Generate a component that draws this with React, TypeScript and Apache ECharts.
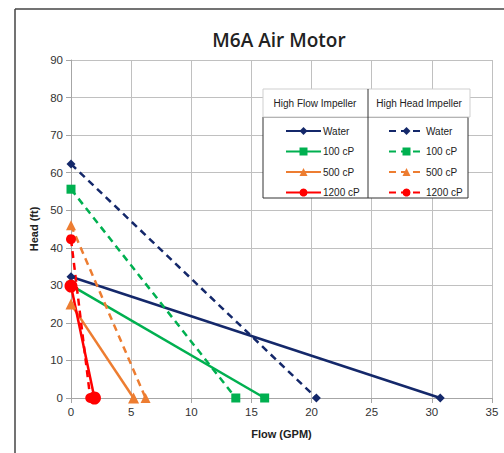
import React, { useEffect, useRef } from "react";
import * as echarts from "echarts";

const fluids = ["Water", "100 cP", "500 cP", "1200 cP"];
const colors = ["#14286a", "#00b050", "#ed7d31", "#ff0000"];
const symbols = ["diamond", "rect", "triangle", "circle"];
const hfSizes = [9, 9, 11, 13];
const hhSizes = [9, 9, 10, 10];

// High Flow Impeller: head at zero flow, flow at zero head
const hfShutoffHead = [32.3, 30, 25, 29.8];
const hfMaxFlow = [30.7, 16.1, 5.2, 1.95];
// High Head Impeller
const hhShutoffHead = [62.3, 55.6, 46, 42.3];
const hhMaxFlow = [20.4, 13.7, 6.2, 1.6];

const xTicks = [0, 35, 5];
const yTicks = [0, 90, 10];

export default function App() {
  const ref = useRef<HTMLDivElement>(null);
  useEffect(() => {
    const chart = echarts.init(ref.current!, null, { renderer: "svg" });
    const series: any[] = [];
    fluids.forEach((f, i) => {
      series.push({
        name: "HF " + f,
        type: "line",
        data: [
          [0, hfShutoffHead[i]],
          [hfMaxFlow[i], 0],
        ],
        symbol: symbols[i],
        symbolSize: hfSizes[i],
        lineStyle: { color: colors[i], width: 2.5, type: "solid" },
        itemStyle: { color: colors[i] },
        z: 3,
      });
    });
    fluids.forEach((f, i) => {
      series.push({
        name: "HH " + f,
        type: "line",
        data: [
          [0, hhShutoffHead[i]],
          [hhMaxFlow[i], 0],
        ],
        symbol: symbols[i],
        symbolSize: hhSizes[i],
        lineStyle: { color: colors[i], width: 2.5, type: [7, 5] },
        itemStyle: { color: colors[i] },
        z: 3,
      });
    });
    const legendBase = {
      orient: "vertical",
      top: 121,
      itemWidth: 35,
      itemHeight: 10,
      itemGap: 10.5,
      formatter: (n: string) => n.slice(3),
      textStyle: { fontSize: 10, color: "#222", fontFamily: "Liberation Sans", padding: [0, 0, 0, -3] },
      selectedMode: false,
      backgroundColor: "transparent",
    };
    chart.setOption({
      animation: false,
      backgroundColor: "#fff",
      title: {
        text: "M6A Air Motor",
        left: 274,
        top: 25,
        textAlign: "center",
        textStyle: { fontFamily: "Open Sans", fontSize: 19, fontWeight: 600, color: "#222" },
      },
      grid: { left: 71, right: 12, top: 60, bottom: 55 },
      xAxis: {
        type: "value",
        min: xTicks[0],
        max: xTicks[1],
        interval: xTicks[2],
        name: "Flow (GPM)",
        nameLocation: "middle",
        nameGap: 30,
        nameTextStyle: { fontFamily: "Liberation Sans", fontWeight: "bold", fontSize: 11, color: "#222" },
        axisLine: { show: true, lineStyle: { color: "#a6a6a6" } },
        axisTick: { show: true, length: 5, lineStyle: { color: "#a6a6a6" } },
        axisLabel: { fontFamily: "Liberation Sans", fontSize: 11.5, color: "#333", margin: 8 },
        splitLine: { show: true, lineStyle: { color: "#c0c0c0" } },
      },
      yAxis: {
        type: "value",
        min: yTicks[0],
        max: yTicks[1],
        interval: yTicks[2],
        name: "Head (ft)",
        nameLocation: "middle",
        nameGap: 30,
        nameTextStyle: { fontFamily: "Liberation Sans", fontWeight: "bold", fontSize: 11, color: "#222" },
        axisLine: { show: true, lineStyle: { color: "#a6a6a6" } },
        axisTick: { show: true, length: 5, lineStyle: { color: "#a6a6a6" } },
        axisLabel: { fontFamily: "Liberation Sans", fontSize: 11.5, color: "#333", margin: 8 },
        splitLine: { show: true, lineStyle: { color: "#c0c0c0" } },
      },
      legend: [
        { ...legendBase, left: 280, data: fluids.map((f) => "HF " + f) },
        { ...legendBase, left: 383, data: fluids.map((f) => "HH " + f) },
      ],
      graphic: [
        { type: "line", shape: { x1: 15, y1: 9, x2: 504, y2: 9 }, style: { stroke: "#444", lineWidth: 1.5 } },
        { type: "line", shape: { x1: 15, y1: 9, x2: 15, y2: 453 }, style: { stroke: "#444", lineWidth: 1.5 } },
        { type: "rect", shape: { x: 263, y: 89, width: 207, height: 28 }, style: { fill: "#fff", stroke: "#cfcfcf", lineWidth: 1 }, z: 10 },
        { type: "rect", shape: { x: 263, y: 117, width: 205, height: 81 }, style: { fill: "#fff", stroke: "#333", lineWidth: 1 }, z: 1 },
        { type: "line", shape: { x1: 368, y1: 89, x2: 368, y2: 198 }, style: { stroke: "#333", lineWidth: 1 }, z: 11 },
        { type: "text", x: 315, y: 103, style: { text: "High Flow Impeller", fontSize: 10, fontFamily: "Liberation Sans", fill: "#222", textAlign: "center", textVerticalAlign: "middle" }, z: 12 },
        { type: "text", x: 419, y: 103, style: { text: "High Head Impeller", fontSize: 10, fontFamily: "Liberation Sans", fill: "#222", textAlign: "center", textVerticalAlign: "middle" }, z: 12 },
      ],
      series,
    });
    return () => chart.dispose();
  }, []);
  return <div ref={ref} style={{ width: 504, height: 453, position: "absolute", left: 0, top: 0 }} />;
}
